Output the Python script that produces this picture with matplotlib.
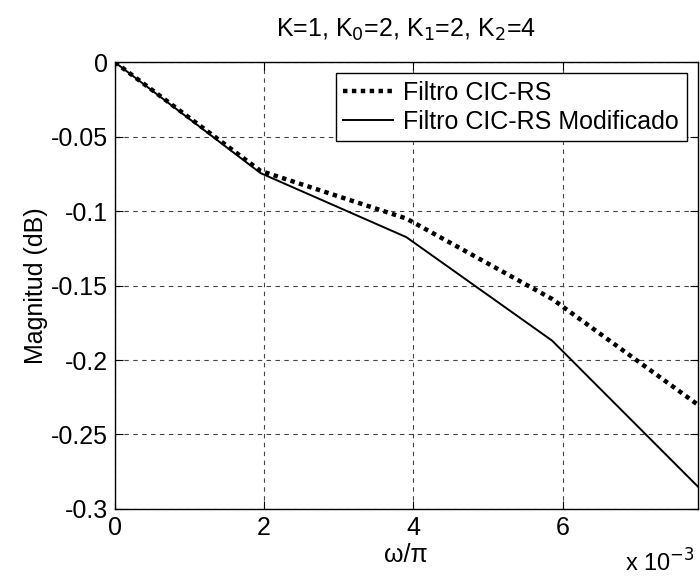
import numpy as np
import matplotlib.pyplot as plt

plt.rcParams['font.family'] = ['Liberation Sans', 'DejaVu Sans']

# frequency points (w/pi) and magnitudes (dB)
w = np.array([0, 1, 2, 3, 4]) / 512.0
cic_rs = [0, -0.073, -0.105, -0.159, -0.230]
cic_rs_mod = [0, -0.0745, -0.1175, -0.187, -0.285]

xticks = [0, 0.002, 0.004, 0.006]
xticklabels = ['0', '2', '4', '6']
yticks = [0, -0.05, -0.1, -0.15, -0.2, -0.25, -0.3]
yticklabels = ['0', '-0.05', '-0.1', '-0.15', '-0.2', '-0.25', '-0.3']

fs = 18

fig = plt.figure(figsize=(7, 5.81), dpi=100)
ax = fig.add_axes([0.164, 0.124, 0.833, 0.769])

ax.plot(w, cic_rs, color='black', linestyle=(0, (1, 1)), linewidth=3.2,
        label='Filtro CIC-RS')
ax.plot(w, cic_rs_mod, color='black', linewidth=1.4,
        label='Filtro CIC-RS Modificado')

ax.set_xlim(0, w[-1])
ax.set_ylim(-0.3, 0)
ax.set_xticks(xticks)
ax.set_xticklabels(xticklabels)
ax.set_yticks(yticks)
ax.set_yticklabels(yticklabels)
ax.tick_params(direction='in', top=True, right=True, labelsize=fs, length=6,
               width=0.8)
ax.tick_params(axis='x', pad=5)
ax.tick_params(axis='y', pad=5)
ax.grid(True, color='#444444', linestyle=(0, (4, 4)), linewidth=0.8)
for s in ax.spines.values():
    s.set_linewidth(1.0)

ax.set_title('K=1, K$_0$=2, K$_1$=2, K$_2$=4', fontsize=fs, pad=18)
ax.set_ylabel('Magnitud (dB)', fontsize=fs, labelpad=2)
ax.set_xlabel('ω/π', fontsize=fs, labelpad=2)
fig.text(0.993, 0.008, 'x 10$^{-3}$', fontsize=fs - 1, ha='right', va='bottom')

leg = ax.legend(loc='upper right', fontsize=fs, fancybox=False,
                edgecolor='black', framealpha=1, handlelength=2.0,
                borderaxespad=0.45, labelspacing=0.2, borderpad=0.3,
                handletextpad=0.4)
leg.get_frame().set_linewidth(1.0)

fig.savefig('out.png', dpi=100)
